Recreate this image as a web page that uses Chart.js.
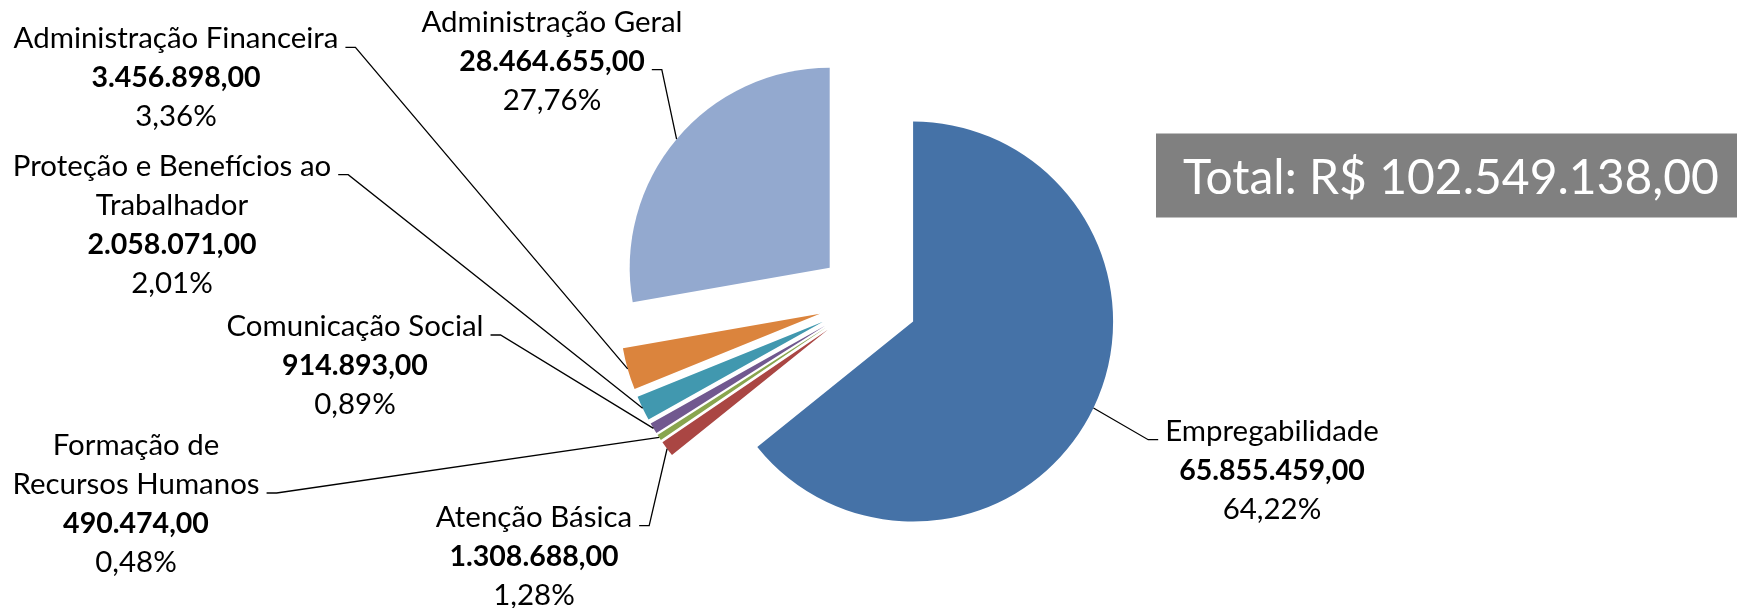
<!DOCTYPE html>
<html><head><meta charset="utf-8">
<script src="https://cdn.jsdelivr.net/npm/chart.js@4"></script>
<style>html,body{margin:0;padding:0;background:#fff;overflow:hidden}#wrap{position:relative;width:1737px;height:608px}</style>
</head><body><div id="wrap"><canvas id="c" width="1737" height="608"></canvas></div>
<script>
// ---- data ----
const categories = ["Empregabilidade","Atenção Básica","Formação de Recursos Humanos","Comunicação Social","Proteção e Benefícios ao Trabalhador","Administração Financeira","Administração Geral"];
const values = [65855459, 1308688, 490474, 914893, 2058071, 3456898, 28464655];
const percents = [64.22, 1.28, 0.48, 0.89, 2.01, 3.36, 27.76];
const colors = ["#4572A7","#AA4643","#89A54E","#71588F","#4198AF","#DB843D","#93A9CF"];
// how each category name wraps in its label
const labelLines = [["Empregabilidade"],["Atenção Básica"],["Formação de","Recursos Humanos"],["Comunicação Social"],["Proteção e Benefícios ao","Trabalhador"],["Administração Financeira"],["Administração Geral"]];
const totalPrefix = "Total: R$ ";

// ---- layout (positions of label blocks, not data) ----
const labelLayout = [
  {cx:1272, y:440.7, tickLine:0, side:'left'},
  {cx:534,  y:526.7, tickLine:0, side:'right'},
  {cx:136,  y:455,   tickLine:1, side:'right'},
  {cx:355,  y:336,   tickLine:0, side:'right'},
  {cx:172,  y:175.7, tickLine:0, side:'right'},
  {cx:176,  y:48.3,  tickLine:0, side:'right'},
  {cx:552,  y:31.7,  tickLine:1, side:'right'}
];
const EXPLODE = 50, RADIUS = 200, LH = 39;
const FAMILY = 'Lato, "Open Sans", sans-serif';

function fmtNum(v){
  const s = String(Math.round(v));
  return s.replace(/\B(?=(\d{3})+(?!\d))/g, '.') + ',00';
}
const total = values.reduce((a,b)=>a+b,0);
function fmtPct(p){ return p.toFixed(2).replace('.', ',') + '%'; }

// fit font sizes to reference text widths
const mctx = document.createElement('canvas').getContext('2d');
function fit(text, weight, target){
  mctx.font = weight + ' 100px ' + FAMILY;
  return 100 * target / mctx.measureText(text).width;
}
const regSize = fit("Administração Financeira", 'normal', 325);
const boldSize = fit("28.464.655,00", 'bold', 185.7);
const totalText = totalPrefix + fmtNum(total);
const totalSize = fit(totalText, 'normal', 536);

const explodePlugin = {
  id:'explode',
  afterDatasetUpdate(chart, args){
    args.meta.data.forEach(arc=>{
      const mid = (arc.startAngle + arc.endAngle)/2;
      arc.x += Math.cos(mid)*EXPLODE;
      arc.y += Math.sin(mid)*EXPLODE;
    });
  }
};

const labelPlugin = {
  id:'labels',
  afterDraw(chart){
    const ctx = chart.ctx;
    const meta = chart.getDatasetMeta(0);
    ctx.save();
    meta.data.forEach((arc, i)=>{
      const L = labelLayout[i];
      const lines = labelLines[i].map(t=>({t, bold:false}));
      lines.push({t: fmtNum(values[i]), bold:true});
      lines.push({t: fmtPct(percents[i]), bold:false});
      ctx.fillStyle = '#000';
      ctx.textAlign = 'center';
      ctx.textBaseline = 'alphabetic';
      lines.forEach((ln, k)=>{
        ctx.font = ln.bold ? ('bold ' + boldSize + 'px ' + FAMILY) : (regSize + 'px ' + FAMILY);
        ctx.fillText(ln.t, L.cx, L.y + k*LH);
      });
      const tl = lines[L.tickLine];
      ctx.font = tl.bold ? ('bold ' + boldSize + 'px ' + FAMILY) : (regSize + 'px ' + FAMILY);
      const w = ctx.measureText(tl.t).width;
      const x0 = L.side === 'right' ? L.cx + w/2 + 7 : L.cx - w/2 - 7;
      const x1 = L.side === 'right' ? x0 + 10 : x0 - 10;
      const ty = L.y + L.tickLine*LH - 1;
      const mid = (arc.startAngle + arc.endAngle)/2;
      const ex = arc.x + Math.cos(mid)*arc.outerRadius;
      const ey = arc.y + Math.sin(mid)*arc.outerRadius;
      ctx.strokeStyle = '#000';
      ctx.lineWidth = 1.3;
      ctx.beginPath();
      ctx.moveTo(x0, ty); ctx.lineTo(x1, ty); ctx.lineTo(ex, ey);
      ctx.stroke();
    });
    // total box
    ctx.fillStyle = '#808080';
    ctx.fillRect(1156, 133.5, 1737-1156, 84);
    ctx.fillStyle = '#fff';
    ctx.textAlign = 'left';
    ctx.font = totalSize + 'px ' + FAMILY;
    ctx.fillText(totalText, 1183, 194);
    ctx.restore();
  }
};

new Chart(document.getElementById('c'), {
  type: 'pie',
  data: {
    labels: categories,
    datasets: [{ data: values, backgroundColor: colors, borderWidth: 0 }]
  },
  options: {
    responsive: false,
    animation: false,
    events: [],
    radius: RADIUS,
    layout: { padding: { left: 0, right: 1, top: 0, bottom: 8 } },
    plugins: { legend: { display: false }, tooltip: { enabled: false }, title: { display: false } }
  },
  plugins: [explodePlugin, labelPlugin]
});
</script></body></html>
